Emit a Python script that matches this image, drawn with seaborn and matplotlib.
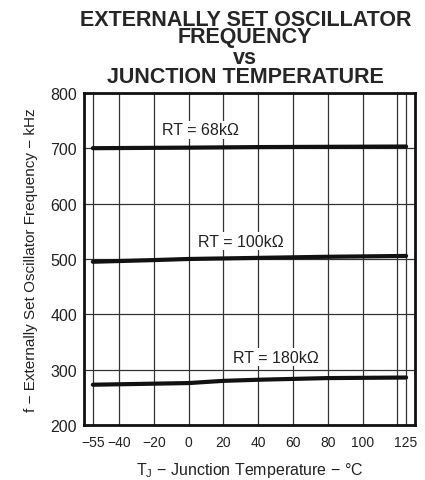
import matplotlib
matplotlib.use('Agg')
import matplotlib.pyplot as plt
import seaborn as sns
import pandas as pd

# data
temp_68k = [-55, 0, 40, 80, 125]
freq_68k = [700, 701, 702, 702.5, 703]

temp_100k = [-55, -20, 0, 40, 80, 125]
freq_100k = [495, 498, 500, 502, 504, 505.5]

temp_180k = [-55, 0, 20, 40, 80, 125]
freq_180k = [273, 276, 280, 282, 285, 286]

labels = ['RT = 68k\u03a9', 'RT = 100k\u03a9', 'RT = 180k\u03a9']
label_x = [7, 30, 50]
label_y = [733, 532, 323]

xticks = [-55, -40, -20, 0, 20, 40, 60, 80, 100, 125]
xgrid = [-55, -40, -20, 0, 20, 40, 60, 80, 100, 120, 125]
yticks = [200, 300, 400, 500, 600, 700, 800]

title_lines = ['EXTERNALLY SET OSCILLATOR', 'FREQUENCY', 'vs', 'JUNCTION TEMPERATURE']
title_base = [26, 43, 64, 83]  # baseline of each title line, px from top

sns.set_style('white')
plt.rcParams['font.family'] = ['Liberation Sans', 'DejaVu Sans']

df = pd.concat([
    pd.DataFrame({'T': temp_68k, 'f': freq_68k, 'RT': labels[0]}),
    pd.DataFrame({'T': temp_100k, 'f': freq_100k, 'RT': labels[1]}),
    pd.DataFrame({'T': temp_180k, 'f': freq_180k, 'RT': labels[2]}),
])

fig = plt.figure(figsize=(4.25, 4.81), dpi=100)
ax = fig.add_axes([0.198, 0.114, 0.778, 0.691])

for x in xgrid:
    ax.axvline(x, color='#333333', lw=0.9, zorder=1)
for y in yticks:
    ax.axhline(y, color='#333333', lw=0.9, zorder=1)

sns.lineplot(data=df, x='T', y='f', units='RT', estimator=None, color='#111111',
             lw=3, ax=ax, zorder=3, legend=False)

for lab, x, y in zip(labels, label_x, label_y):
    ax.text(x, y, lab, ha='center', va='center', fontsize=11.5, color='#222222',
            bbox=dict(facecolor='white', edgecolor='none', pad=1.0), zorder=4)

ax.set_xlim(-60, 130)
ax.set_ylim(200, 800)
ax.set_xticks(xticks)
ax.set_xticklabels(['\u221255', '\u221240', '\u221220', '0', '20', '40', '60', '80', '100', '125'])
ax.set_yticks(yticks)
ax.tick_params(length=0, labelcolor='#222222')
ax.tick_params(axis='x', labelsize=10, pad=7)
ax.tick_params(axis='y', labelsize=11.5, pad=5)
for s in ax.spines.values():
    s.set_linewidth(2)
    s.set_color('#111111')

ax.set_xlabel('T$_\\mathregular{J}$ \u2212 Junction Temperature \u2212 \u00b0C', fontsize=11.5, color='#222222', labelpad=8)
ax.set_ylabel('f \u2212 Externally Set Oscillator Frequency \u2212 kHz', fontsize=11, color='#222222', labelpad=9)

for line, b in zip(title_lines, title_base):
    fig.text(0.577, 1 - b / 481, line, ha='center', va='baseline',
             fontsize=15.5, fontweight='bold')

plt.savefig('out.png', dpi=100)
